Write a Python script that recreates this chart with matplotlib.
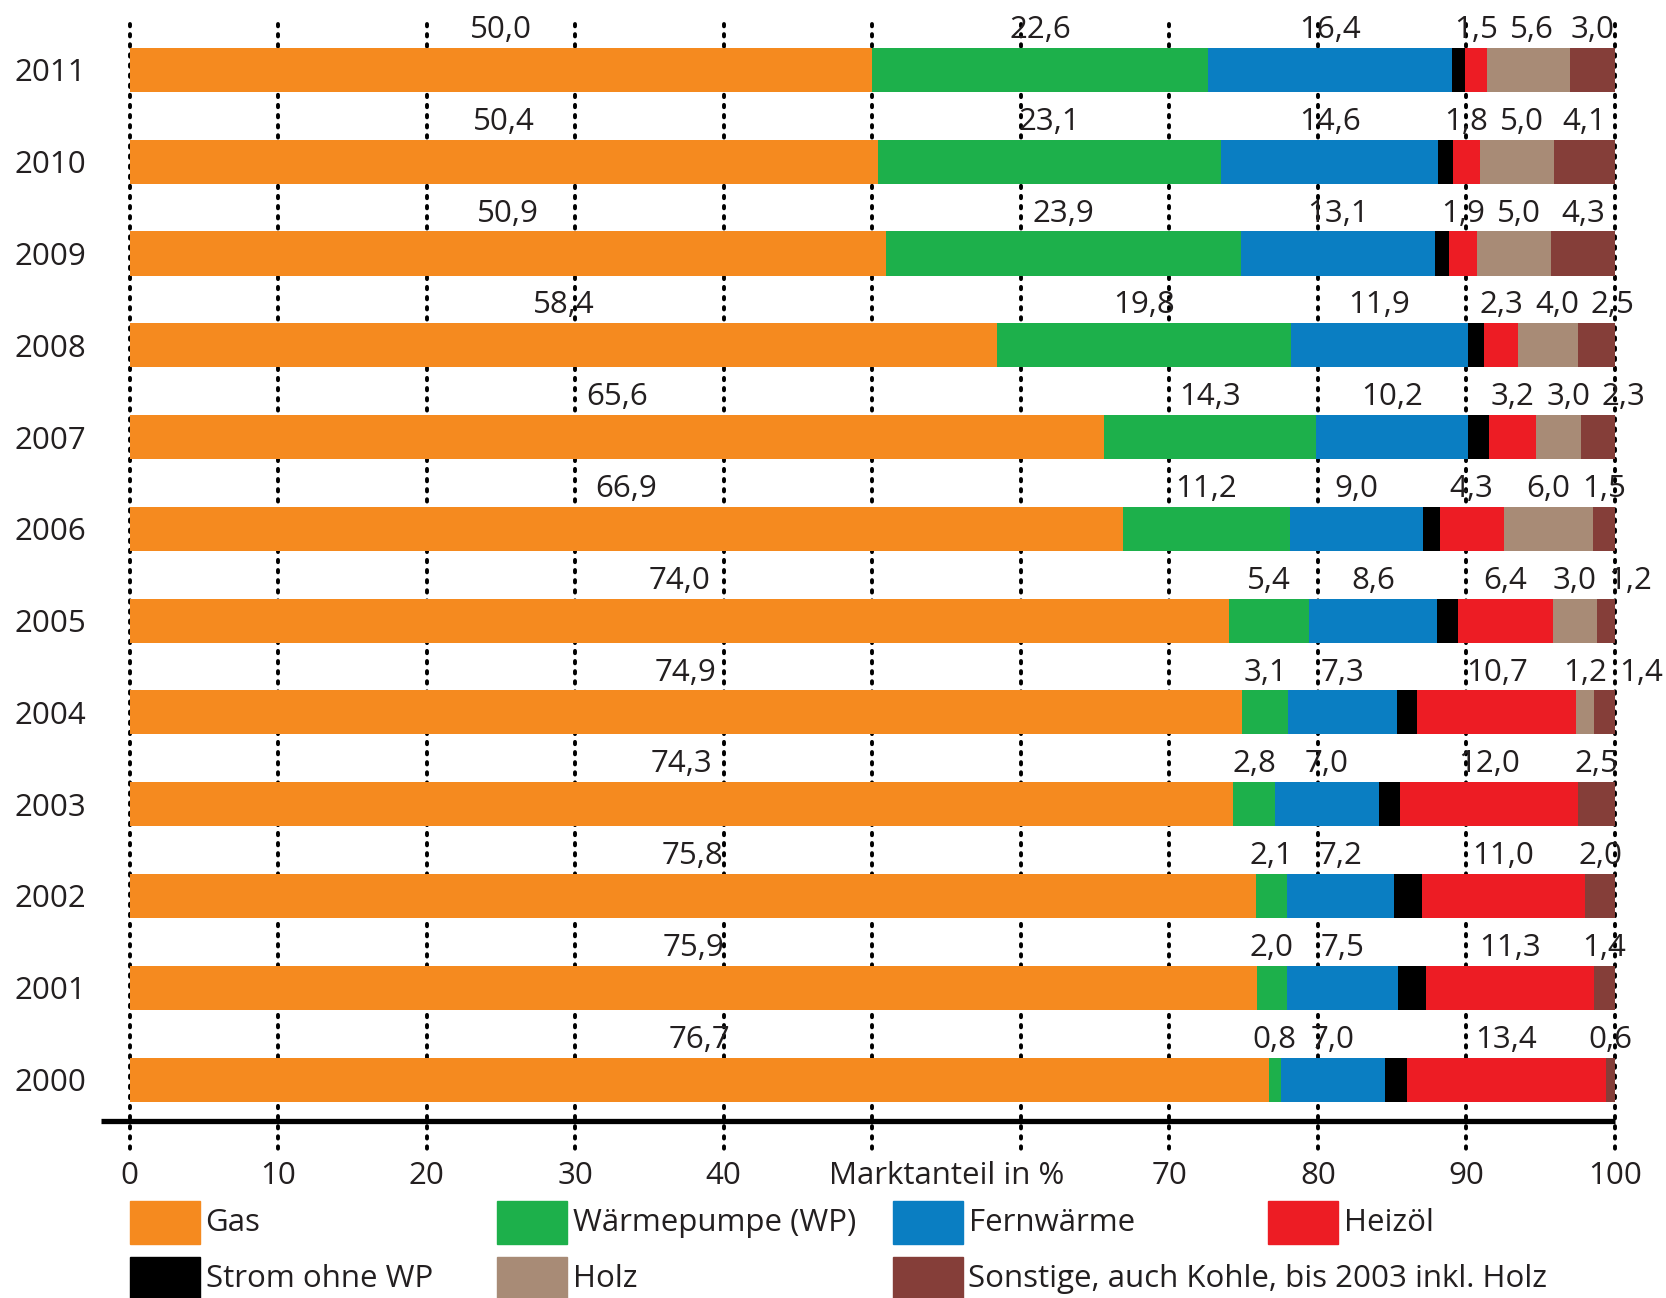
import matplotlib
matplotlib.use("Agg")
import matplotlib.pyplot as plt
from matplotlib.patches import Rectangle
import numpy as np

plt.rcParams["font.family"] = ["Open Sans", "DejaVu Sans"]

years = [2011, 2010, 2009, 2008, 2007, 2006, 2005, 2004, 2003, 2002, 2001, 2000]
gas = [50.0, 50.4, 50.9, 58.4, 65.6, 66.9, 74.0, 74.9, 74.3, 75.8, 75.9, 76.7]
waermepumpe = [22.6, 23.1, 23.9, 19.8, 14.3, 11.2, 5.4, 3.1, 2.8, 2.1, 2.0, 0.8]
fernwaerme = [16.4, 14.6, 13.1, 11.9, 10.2, 9.0, 8.6, 7.3, 7.0, 7.2, 7.5, 7.0]
strom = [0.9, 1.0, 0.9, 1.1, 1.4, 1.1, 1.4, 1.4, 1.4, 1.9, 1.9, 1.5]
heizoel = [1.5, 1.8, 1.9, 2.3, 3.2, 4.3, 6.4, 10.7, 12.0, 11.0, 11.3, 13.4]
holz = [5.6, 5.0, 5.0, 4.0, 3.0, 6.0, 3.0, 1.2, 0.0, 0.0, 0.0, 0.0]
sonstige = [3.0, 4.1, 4.3, 2.5, 2.3, 1.5, 1.2, 1.4, 2.5, 2.0, 1.4, 0.6]

series = [gas, waermepumpe, fernwaerme, strom, heizoel, holz, sonstige]
names = ["Gas", "Wärmepumpe (WP)", "Fernwärme", "Strom ohne WP", "Heizöl", "Holz",
         "Sonstige, auch Kohle, bis 2003 inkl. Holz"]
colors = ["#F58A1F", "#1DB04B", "#0A7EC2", "#000000", "#ED1C24", "#A88B76", "#853E39"]
labelled = [True, True, True, False, True, True, True]

W, H = 1666, 1298
fig = plt.figure(figsize=(W / 100, H / 100), dpi=100)
ax = fig.add_axes([129.6 / W, 1 - 1153 / H, (1615 - 129.6) / W, (1153 - 24) / H])

y = np.arange(len(years))
fs = 22.5
tc = "#231F20"

# gridlines behind bars
for t in range(0, 101, 10):
    ax.plot([t, t], [-0.5, 11.8], color="black", lw=2.8, linestyle=(0, (0.6, 2.0)),
            dash_capstyle="round", zorder=1, clip_on=False)

left = np.zeros(len(years))
for vals, col in zip(series, colors):
    vals = np.array(vals)
    ax.barh(y, vals, left=left, height=0.48, color=col, zorder=2)
    left += vals

# value labels above bars, centred on segments, pushed apart if they collide
for i in range(len(years)):
    start = 0.0
    pos = []
    for vals, lab in zip(series, labelled):
        v = vals[i]
        if lab and v > 0:
            txt = f"{v:.1f}".replace(".", ",")
            w = 1.05 * len(txt)
            pos.append([start + v / 2, w, txt])
        start += v
    for k in range(1, len(pos)):
        need = (pos[k - 1][1] + pos[k][1]) / 2 + 0.6
        if pos[k][0] - pos[k - 1][0] < need:
            pos[k][0] = pos[k - 1][0] + need
    for cx, w, txt in pos:
        ax.text(cx, y[i] - 0.27, txt, ha="center", va="bottom", fontsize=fs,
                color=tc, zorder=3)

# thick base line
ax.plot([-1.9, 100], [11.45, 11.45], color="black", lw=3.8, solid_capstyle="butt",
        clip_on=False, zorder=3)

ax.set_xlim(0, 100)
ax.set_ylim(11.8, -0.5)
ax.set_yticks(y)
ax.set_yticklabels([str(v) for v in years], fontsize=fs, color=tc)
ax.set_xticks([0, 10, 20, 30, 40, 55, 70, 80, 90, 100])
ax.set_xticklabels(["0", "10", "20", "30", "40", "Marktanteil in %", "70", "80", "90", "100"],
                   fontsize=fs, color=tc)
ax.tick_params(axis="x", length=0, pad=6)
ax.tick_params(axis="y", length=0, pad=31)
for s in ax.spines.values():
    s.set_visible(False)

# legend drawn by hand
cols_x = [129.6, 497, 892.5, 1267.6]
rows_y = [1200.6, 1257]
slots = [(0, 0), (1, 0), (2, 0), (0, 1), (3, 0), (1, 1), (2, 1)]
for (c, r), name, col in zip(slots, names, colors):
    x0 = cols_x[c]
    y0 = rows_y[r]
    fig.add_artist(Rectangle((x0 / W, 1 - (y0 + 43) / H), 70 / W, 43 / H,
                             transform=fig.transFigure, color=col))
    fig.text((x0 + 76) / W, 1 - (y0 + 22) / H, name, fontsize=fs, va="center",
             ha="left", color=tc)

fig.savefig("out.png", dpi=100)
